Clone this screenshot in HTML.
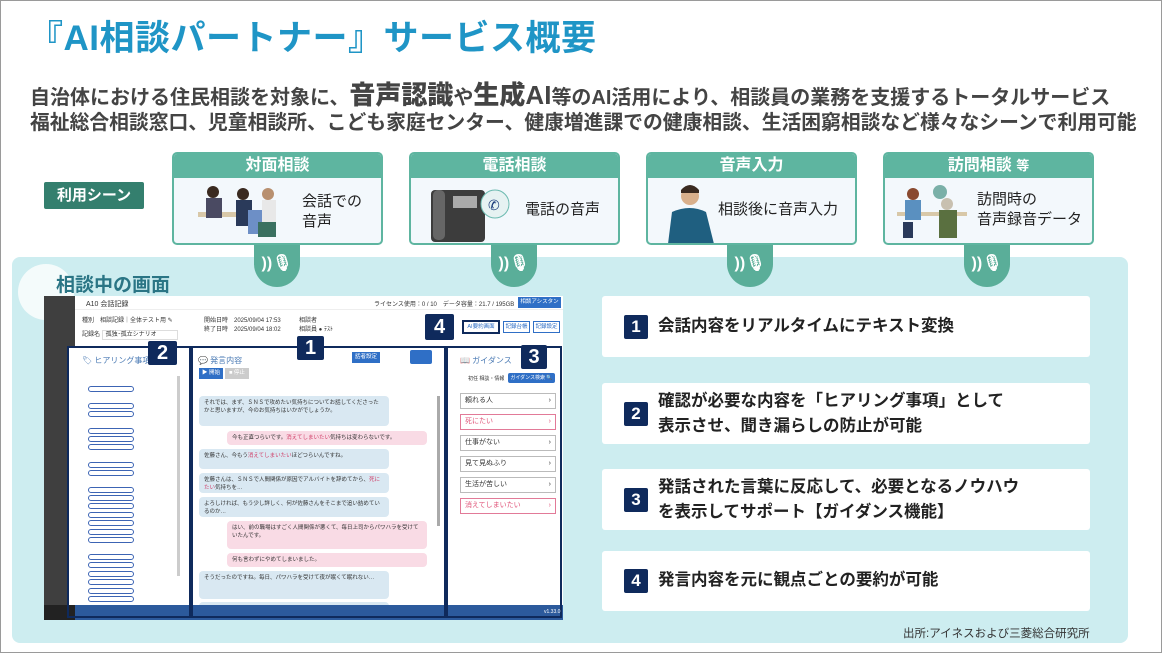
<!DOCTYPE html>
<html><head><meta charset="utf-8">
<style>
*{margin:0;padding:0;box-sizing:border-box}
body{width:1162px;height:653px;background:#fff;font-family:"Liberation Sans","Noto Sans CJK JP",sans-serif;position:relative;overflow:hidden}
.abs{position:absolute}
.frame{position:absolute;left:0;top:0;width:1162px;height:653px;border:1px solid #9a9a9a}
.title{left:28px;top:10px;font-size:35px;font-weight:bold;color:#1f95c6;letter-spacing:0.5px}
.l1{left:30px;top:75px;font-size:20px;font-weight:bold;color:#444;white-space:nowrap}
.l1 b{font-size:26px}
.l2{left:30px;top:106px;font-size:19.8px;font-weight:bold;color:#444;white-space:nowrap}
.badge{left:44px;top:182px;width:100px;height:27px;background:#347f6e;color:#fff;font-weight:bold;font-size:15px;text-align:center;line-height:27px;border-radius:2px}
.panel{left:12px;top:257px;width:1116px;height:386px;background:#cdedf0;border-radius:8px}
.card{width:211px;height:93px;top:152px;border:2px solid #5eb5a0;border-radius:5px;background:#f3f8fc;overflow:hidden}
.card .h{height:24px;background:#5eb5a0;color:#fff;font-weight:bold;font-size:16px;text-align:center;line-height:24px}
.card .t{position:absolute;font-size:15px;color:#222;line-height:20px}
.mic{width:46px;height:46px;border-radius:50%;background:#5aae99;top:241px}
.micbar{width:46px;height:20px;background:#5aae99;top:245px}
.mic span{position:absolute;left:0;top:12px;width:46px;text-align:center;color:#fff;font-size:16px;font-weight:bold}
.item{left:602px;width:488px;background:#fff;border-radius:3px}
.item .n{position:absolute;left:22px;width:24px;height:24px;background:#0f2a5c;color:#fff;font-weight:bold;font-size:17px;text-align:center;line-height:24px;border-radius:2px}
.item .tx{position:absolute;left:56px;font-size:16.5px;font-weight:bold;color:#222;line-height:25px}
.num{background:#0f2a5c;color:#fff;font-weight:bold;font-size:20px;text-align:center;border-radius:2px}
.ss{font-size:6px;color:#333}
.bub{position:absolute;background:#d9e8f2;border-radius:4px;font-size:5.5px;color:#333;padding:3px 5px;line-height:8px}
.bub.p{background:#f9dbe5}
.gi{position:absolute;left:416px;width:96px;height:16px;border:1px solid #bbb;background:#fff;font-size:7px;line-height:14px;padding-left:4px;color:#333}
.gi.r{border-color:#e27a98;color:#e0557a}
.cb{position:absolute;left:44px;width:46px;height:6px;border:1px solid #3c64b4;border-radius:4px}
.sq{position:absolute;left:36px;width:5px;height:5px;border:1px solid #999}
</style></head><body>
<div class="frame"></div>
<div class="abs title">『AI相談パートナー』サービス概要</div>
<div class="abs l1">自治体における住民相談を対象に、<b>音声認識</b>や<b>生成AI</b>等のAI活用により、相談員の業務を支援するトータルサービス</div>
<div class="abs l2">福祉総合相談窓口、児童相談所、こども家庭センター、健康増進課での健康相談、生活困窮相談など様々なシーンで利用可能</div>
<div class="abs badge">利用シーン</div>

<div class="abs panel"></div>
<div class="abs" style="left:18px;top:264px;width:56px;height:56px;border-radius:50%;background:#f4fbfb"></div>
<div class="abs" style="left:56px;top:270px;font-size:19px;color:#2a7585;font-weight:bold">相談中の画面</div>

<div class="abs micbar" style="left:254px"></div><div class="abs mic" style="left:254px"><span>))🎙</span></div>
<div class="abs micbar" style="left:491px"></div><div class="abs mic" style="left:491px"><span>))🎙</span></div>
<div class="abs micbar" style="left:727px"></div><div class="abs mic" style="left:727px"><span>))🎙</span></div>
<div class="abs micbar" style="left:964px"></div><div class="abs mic" style="left:964px"><span>))🎙</span></div>

<div class="abs card" style="left:172px"><div class="h">対面相談</div>
 <svg class="abs" style="left:14px;top:28px" width="100" height="60"><rect x="10" y="30" width="75" height="5" fill="#d8c8a8"/><circle cx="25" cy="10" r="6" fill="#3a2a20"/><rect x="18" y="16" width="16" height="20" fill="#4a4a62"/><circle cx="55" cy="12" r="6" fill="#3a2a20"/><rect x="48" y="18" width="16" height="26" fill="#2a3a5a"/><rect x="60" y="28" width="14" height="24" fill="#6d8fc6"/><circle cx="80" cy="12" r="6" fill="#b89070"/><rect x="74" y="18" width="14" height="22" fill="#e8e8e8"/><rect x="70" y="40" width="18" height="15" fill="#3a7060"/></svg>
 <div class="t" style="left:128px;top:38px">会話での<br>音声</div></div>
<div class="abs card" style="left:409px"><div class="h">電話相談</div>
 <svg class="abs" style="left:14px;top:30px" width="100" height="60"><rect x="6" y="6" width="54" height="52" rx="4" fill="#3c3c3c"/><rect x="8" y="6" width="12" height="50" rx="5" fill="#666"/><rect x="28" y="12" width="24" height="12" fill="#aaa"/><circle cx="70" cy="20" r="14" fill="#e6f2f2" stroke="#6cbab0"/><text x="63" y="26" font-size="14" fill="#1a3a7a">✆</text></svg>
 <div class="t" style="left:114px;top:46px">電話の音声</div></div>
<div class="abs card" style="left:646px"><div class="h">音声入力</div>
 <svg class="abs" style="left:14px;top:28px" width="60" height="62"><circle cx="28" cy="14" r="9" fill="#d9b08c"/><path d="M19 8 Q28 -2 37 8 L37 11 L19 11Z" fill="#3a2a20"/><path d="M6 62 L10 30 Q28 22 44 30 L52 62Z" fill="#1f5f80"/></svg>
 <div class="t" style="left:70px;top:46px">相談後に音声入力</div></div>
<div class="abs card" style="left:883px"><div class="h"><span>訪問相談</span> <span style="font-size:13px">等</span></div>
 <svg class="abs" style="left:10px;top:28px" width="80" height="62"><rect x="2" y="30" width="70" height="4" fill="#d8c8a8"/><circle cx="18" cy="12" r="6" fill="#8a4a30"/><rect x="10" y="18" width="16" height="20" fill="#5a90c0"/><rect x="8" y="40" width="10" height="16" fill="#2a3a5a"/><circle cx="45" cy="10" r="7" fill="#7ab0a8"/><circle cx="52" cy="22" r="6" fill="#c8c0b0"/><rect x="44" y="28" width="18" height="28" fill="#5a7040"/></svg>
 <div class="t" style="left:92px;top:36px">訪問時の<br>音声録音データ</div></div>

<div class="abs" style="left:44px;top:296px;width:519px;height:324px;background:#fff;overflow:hidden">
 <div class="abs" style="left:0;top:0;width:31px;height:324px;background:#3f3f3f"></div>
 <div class="abs" style="left:31px;top:0;width:488px;height:14px;background:#fff;border-bottom:1px solid #eee"></div>
 <div class="abs ss" style="left:42px;top:3px;font-size:7px">A10 会話記録</div>
 <div class="abs ss" style="left:330px;top:3px">ライセンス使用：0 / 10　データ容量：21.7 / 195GB</div>
 <div class="abs" style="left:474px;top:1px;width:43px;height:11px;background:#2f6fc6;color:#fff;font-size:5.5px;text-align:center;line-height:11px">相談アシスタント</div>
 <div class="abs ss" style="left:38px;top:19px">種別　相談記録｜全体テスト用 ✎</div>
 <div class="abs ss" style="left:38px;top:33px">記録名 <span style="border:1px solid #ddd;padding:1px 20px 1px 3px">孤独･孤立シナリオ</span></div>
 <div class="abs ss" style="left:160px;top:21px;line-height:9px">開始日時　2025/09/04 17:53<br>終了日時　2025/09/04 18:02</div>
 <div class="abs ss" style="left:255px;top:21px;line-height:9px">相談者<br>相談員 ● ﾃｽﾄ</div>
 <div class="abs" style="left:418px;top:24px;width:38px;height:14px;border:2px solid #0f2a5c;font-size:5.5px;color:#2f6fc6;text-align:center;line-height:10px">AI要約画面</div>
 <div class="abs" style="left:459px;top:25px;width:27px;height:12px;border:1px solid #2f6fc6;font-size:5.5px;color:#2f6fc6;text-align:center;line-height:10px">記録台帳</div>
 <div class="abs" style="left:489px;top:25px;width:27px;height:12px;border:1px solid #2f6fc6;font-size:5.5px;color:#2f6fc6;text-align:center;line-height:10px">記録設定</div>
 <div class="abs" style="left:23px;top:50px;width:124px;height:272px;border:2px solid #0f2a5c;background:#fff"></div>
 <div class="abs" style="left:147px;top:50px;width:255px;height:272px;border:2px solid #0f2a5c;background:#fff"></div>
 <div class="abs" style="left:402px;top:50px;width:116px;height:272px;border:2px solid #0f2a5c;background:#fff"></div>
 <div class="abs" style="left:133px;top:80px;width:3px;height:200px;background:#ccc"></div>
 <div class="abs" style="left:393px;top:100px;width:3px;height:130px;background:#aaa"></div>
 <div class="abs" style="left:38px;top:59px;font-size:8px;color:#4a7ab4">🏷 ヒアリング事項</div>
 <div class="abs" style="left:154px;top:59px;font-size:8px;color:#4a7ab4">💬 発言内容</div>
 <div class="abs" style="left:308px;top:56px;width:28px;height:11px;background:#2f6fc6;color:#fff;font-size:5.5px;text-align:center;line-height:11px">話者設定</div>
 <div class="abs" style="left:366px;top:54px;width:22px;height:14px;background:#2f6fc6;border-radius:2px"></div>
 <div class="abs" style="left:155px;top:72px;width:24px;height:11px;background:#2f6fc6;color:#fff;font-size:5.5px;line-height:11px;text-align:center">▶ 開始</div>
 <div class="abs" style="left:181px;top:72px;width:24px;height:11px;background:#ccc;color:#fff;font-size:5.5px;line-height:11px;text-align:center">■ 停止</div>
 <div class="abs" style="left:416px;top:59px;font-size:8px;color:#4a7ab4">📖 ガイダンス</div>
 <div class="abs" style="left:464px;top:77px;width:47px;height:10px;background:#2f6fc6;border-radius:2px;color:#fff;font-size:5px;line-height:10px;text-align:center">ガイダンス検索 🔍</div>
 <div class="abs ss" style="left:424px;top:79px;font-size:5px">初任 相談・情報</div>
 <div class="gi" style="top:97px">頼れる人 <span style="float:right;margin-right:4px">›</span></div>
 <div class="gi r" style="top:118px">死にたい <span style="float:right;margin-right:4px">›</span></div>
 <div class="gi" style="top:139px">仕事がない <span style="float:right;margin-right:4px">›</span></div>
 <div class="gi" style="top:160px">見て見ぬふり <span style="float:right;margin-right:4px">›</span></div>
 <div class="gi" style="top:181px">生活が苦しい <span style="float:right;margin-right:4px">›</span></div>
 <div class="gi r" style="top:202px">消えてしまいたい <span style="float:right;margin-right:4px">›</span></div>
 <div class="cb" style="top:90px"></div><div class="cb" style="top:107px"></div><div class="cb" style="top:115px"></div>
 <div class="cb" style="top:132px"></div><div class="cb" style="top:140px"></div><div class="cb" style="top:148px"></div>
 <div class="cb" style="top:166px"></div><div class="cb" style="top:174px"></div><div class="cb" style="top:191px"></div>
 <div class="cb" style="top:199px"></div><div class="cb" style="top:207px"></div><div class="cb" style="top:216px"></div>
 <div class="cb" style="top:224px"></div><div class="cb" style="top:233px"></div><div class="cb" style="top:241px"></div>
 <div class="cb" style="top:258px"></div><div class="cb" style="top:266px"></div><div class="cb" style="top:275px"></div>
 <div class="cb" style="top:283px"></div><div class="cb" style="top:292px"></div><div class="cb" style="top:300px"></div>
 <div class="bub" style="left:155px;top:100px;width:190px;height:30px">それでは、まず、ＳＮＳで攻めたい気持ちについてお話してくださったかと思いますが、今のお気持ちはいかがでしょうか。</div>
 <div class="bub p" style="left:183px;top:135px;width:200px;height:14px">今も正直つらいです。<span style="color:#d0406a">消えてしまいたい</span>気持ちは変わらないです。</div>
 <div class="bub" style="left:155px;top:153px;width:190px;height:20px">佐藤さん、今もう<span style="color:#d0406a">消えてしまいたい</span>ほどつらいんですね。</div>
 <div class="bub" style="left:155px;top:177px;width:190px;height:20px">佐藤さんは、ＳＮＳで人間関係が原因でアルバイトを辞めてから、<span style="color:#d0406a">死にたい</span>気持ちを…</div>
 <div class="bub" style="left:155px;top:201px;width:190px;height:20px">よろしければ、もう少し詳しく、何が佐藤さんをそこまで追い詰めているのか…</div>
 <div class="bub p" style="left:183px;top:225px;width:200px;height:28px">はい、前の職場はすごく人間関係が悪くて、毎日上司からパワハラを受けていたんです。</div>
 <div class="bub p" style="left:183px;top:257px;width:200px;height:14px">何も言わずにやめてしまいました。</div>
 <div class="bub" style="left:155px;top:275px;width:190px;height:28px">そうだったのですね。毎日、パワハラを受けて夜が眠くて眠れない…</div>
 <div class="bub" style="left:155px;top:306px;width:190px;height:14px">よくここまで耐えてこられました。</div>
 <div class="abs" style="left:31px;top:309px;width:488px;height:15px;background:#2c5a9c"></div>
 <div class="abs" style="left:0;top:309px;width:31px;height:15px;background:#222"></div>
 <div class="abs" style="left:23px;top:309px;width:124px;height:13px;border:2px solid #0f2a5c;border-top:none"></div>
 <div class="abs" style="left:147px;top:309px;width:255px;height:13px;border:2px solid #0f2a5c;border-top:none"></div>
 <div class="abs" style="left:402px;top:309px;width:116px;height:13px;border:2px solid #0f2a5c;border-top:none"></div>
 <div class="abs" style="left:500px;top:313px;color:#fff;font-size:5px">v1.33.0</div>
</div>
<div class="abs num" style="left:148px;top:341px;width:29px;height:24px;line-height:24px">2</div>
<div class="abs num" style="left:297px;top:336px;width:27px;height:24px;line-height:24px">1</div>
<div class="abs num" style="left:521px;top:345px;width:26px;height:24px;line-height:24px">3</div>
<div class="abs num" style="left:425px;top:314px;width:29px;height:26px;line-height:26px">4</div>

<div class="abs item" style="top:296px;height:61px"><div class="n" style="top:19px">1</div><div class="tx" style="top:18px">会話内容をリアルタイムにテキスト変換</div></div>
<div class="abs item" style="top:383px;height:61px"><div class="n" style="top:19px">2</div><div class="tx" style="top:6px">確認が必要な内容を「ヒアリング事項」として<br>表示させ、聞き漏らしの防止が可能</div></div>
<div class="abs item" style="top:469px;height:61px"><div class="n" style="top:19px">3</div><div class="tx" style="top:6px">発話された言葉に反応して、必要となるノウハウ<br>を表示してサポート【ガイダンス機能】</div></div>
<div class="abs item" style="top:551px;height:60px"><div class="n" style="top:18px">4</div><div class="tx" style="top:17px">発言内容を元に観点ごとの要約が可能</div></div>
<div class="abs" style="left:903px;top:625px;font-size:11.5px;color:#333">出所:アイネスおよび三菱総合研究所</div>
</body></html>
